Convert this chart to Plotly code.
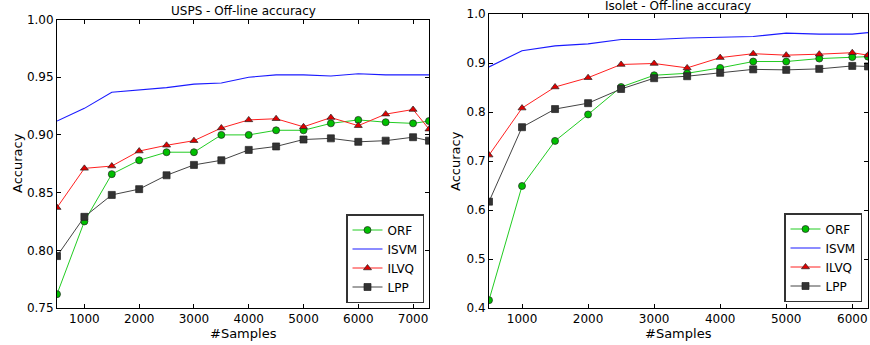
import plotly.graph_objects as go

# ---------------- data ----------------
usps_x = [500, 1000, 1500, 2000, 2500, 3000, 3500, 4000, 4500, 5000, 5500, 6000, 6500, 7000, 7291]
usps_orf = [0.762, 0.825, 0.866, 0.878, 0.885, 0.885, 0.900, 0.900, 0.904, 0.904, 0.910, 0.913, 0.911, 0.910, 0.912]
usps_isvm = [0.912, 0.923, 0.937, 0.939, 0.941, 0.944, 0.945, 0.950, 0.952, 0.952, 0.951, 0.953, 0.952, 0.952, 0.952]
usps_ilvq = [0.837, 0.871, 0.873, 0.886, 0.891, 0.895, 0.906, 0.913, 0.914, 0.907, 0.915, 0.908, 0.918, 0.922, 0.905]
usps_lpp = [0.795, 0.829, 0.848, 0.853, 0.865, 0.874, 0.878, 0.887, 0.890, 0.896, 0.897, 0.894, 0.895, 0.898, 0.895]

iso_x = [500, 1000, 1500, 2000, 2500, 3000, 3500, 4000, 4500, 5000, 5500, 6000, 6238]
iso_orf = [0.416, 0.649, 0.741, 0.795, 0.851, 0.875, 0.879, 0.890, 0.903, 0.903, 0.909, 0.912, 0.913]
iso_isvm = [0.892, 0.925, 0.935, 0.939, 0.948, 0.948, 0.951, 0.952, 0.954, 0.961, 0.959, 0.959, 0.962]
iso_ilvq = [0.712, 0.808, 0.851, 0.870, 0.897, 0.899, 0.890, 0.911, 0.919, 0.916, 0.918, 0.921, 0.916]
iso_lpp = [0.617, 0.769, 0.806, 0.818, 0.847, 0.869, 0.873, 0.880, 0.887, 0.886, 0.888, 0.894, 0.893]

names = ["ORF", "ISVM", "ILVQ", "LPP"]
usps_ticks_y = [0.75, 0.80, 0.85, 0.90, 0.95, 1.00]
iso_ticks_y = [0.4, 0.5, 0.6, 0.7, 0.8, 0.9, 1.0]
usps_ticks_x = [1000, 2000, 3000, 4000, 5000, 6000, 7000]
iso_ticks_x = [1000, 2000, 3000, 4000, 5000, 6000]

# ---------------- styles ----------------
styles = {
    "ORF": dict(mode="lines+markers", line=dict(color="#22cc22", width=1),
                marker=dict(symbol="circle", size=7, color="#00c000", line=dict(color="#222222", width=0.7))),
    "ISVM": dict(mode="lines", line=dict(color="#1a1aff", width=1.1)),
    "ILVQ": dict(mode="lines+markers", line=dict(color="#ff2020", width=1),
                 marker=dict(symbol="triangle-up", size=7, color="#e00000", line=dict(color="#222222", width=0.7))),
    "LPP": dict(mode="lines+markers", line=dict(color="#444444", width=1),
                marker=dict(symbol="square", size=7, color="#333333", line=dict(color="#222222", width=0.7))),
}

FONT = "DejaVu Sans"
fig = go.Figure()

for name, ys in zip(names, [usps_orf, usps_isvm, usps_ilvq, usps_lpp]):
    fig.add_trace(go.Scatter(x=usps_x, y=ys, name=name, xaxis="x", yaxis="y",
                             legend="legend", **styles[name]))
for name, ys in zip(names, [iso_orf, iso_isvm, iso_ilvq, iso_lpp]):
    fig.add_trace(go.Scatter(x=iso_x, y=ys, name=name, xaxis="x2", yaxis="y2",
                             legend="legend2", **styles[name]))

axis_common = dict(showline=True, linecolor="black", linewidth=1, mirror="ticks",
                   ticks="inside", ticklen=4, tickcolor="black", showgrid=False,
                   zeroline=False, automargin=False,
                   tickfont=dict(family=FONT, size=12, color="black"))

W, H = 870, 345
L_dom = [57 / W, 429 / W]
R_dom = [489 / W, 868 / W]
bot = 1 - 308 / H
L_top = 1 - 19.5 / H
R_top = 1 - 14 / H

legend_common = dict(xanchor="right", yanchor="bottom", bordercolor="#333333", borderwidth=1.5,
                     bgcolor="white", font=dict(family=FONT, size=12), tracegroupgap=0,
                     itemwidth=30)


def ann(text, x, y, angle=0, size=12):
    return dict(text=text, x=x / W, y=1 - y / H, xref="paper", yref="paper",
                xanchor="center", yanchor="middle", textangle=angle, showarrow=False,
                font=dict(family=FONT, size=size, color="black"))


fig.update_layout(
    width=W, height=H,
    margin=dict(l=0, r=0, t=0, b=0),
    paper_bgcolor="white", plot_bgcolor="white",
    font=dict(family=FONT, size=12, color="black"),
    xaxis=dict(domain=L_dom, anchor="y", range=[500, 7291], tickvals=usps_ticks_x, **axis_common),
    yaxis=dict(domain=[bot, L_top], anchor="x", range=[0.75, 1.0], tickvals=usps_ticks_y,
               tickformat=".2f", **axis_common),
    xaxis2=dict(domain=R_dom, anchor="y2", range=[500, 6238], tickvals=iso_ticks_x, **axis_common),
    yaxis2=dict(domain=[bot, R_top], anchor="x2", range=[0.4, 1.0], tickvals=iso_ticks_y,
                tickformat=".1f", **axis_common),
    legend=dict(x=424 / W, y=1 - 303 / H, **legend_common),
    legend2=dict(x=862 / W, y=1 - 302 / H, **legend_common),
    annotations=[
        ann("USPS - Off-line accuracy", 243, 11.5),
        ann("Isolet - Off-line accuracy", 678, 6),
        ann("Accuracy", 17, 163, angle=-90, size=13),
        ann("Accuracy", 455, 161, angle=-90, size=13),
        ann("#Samples", 243, 333, size=13),
        ann("#Samples", 678, 333, size=13),
    ],
)

fig.write_html("out.html", config={"displayModeBar": False},
               post_script="document.body.style.margin='0px';")
